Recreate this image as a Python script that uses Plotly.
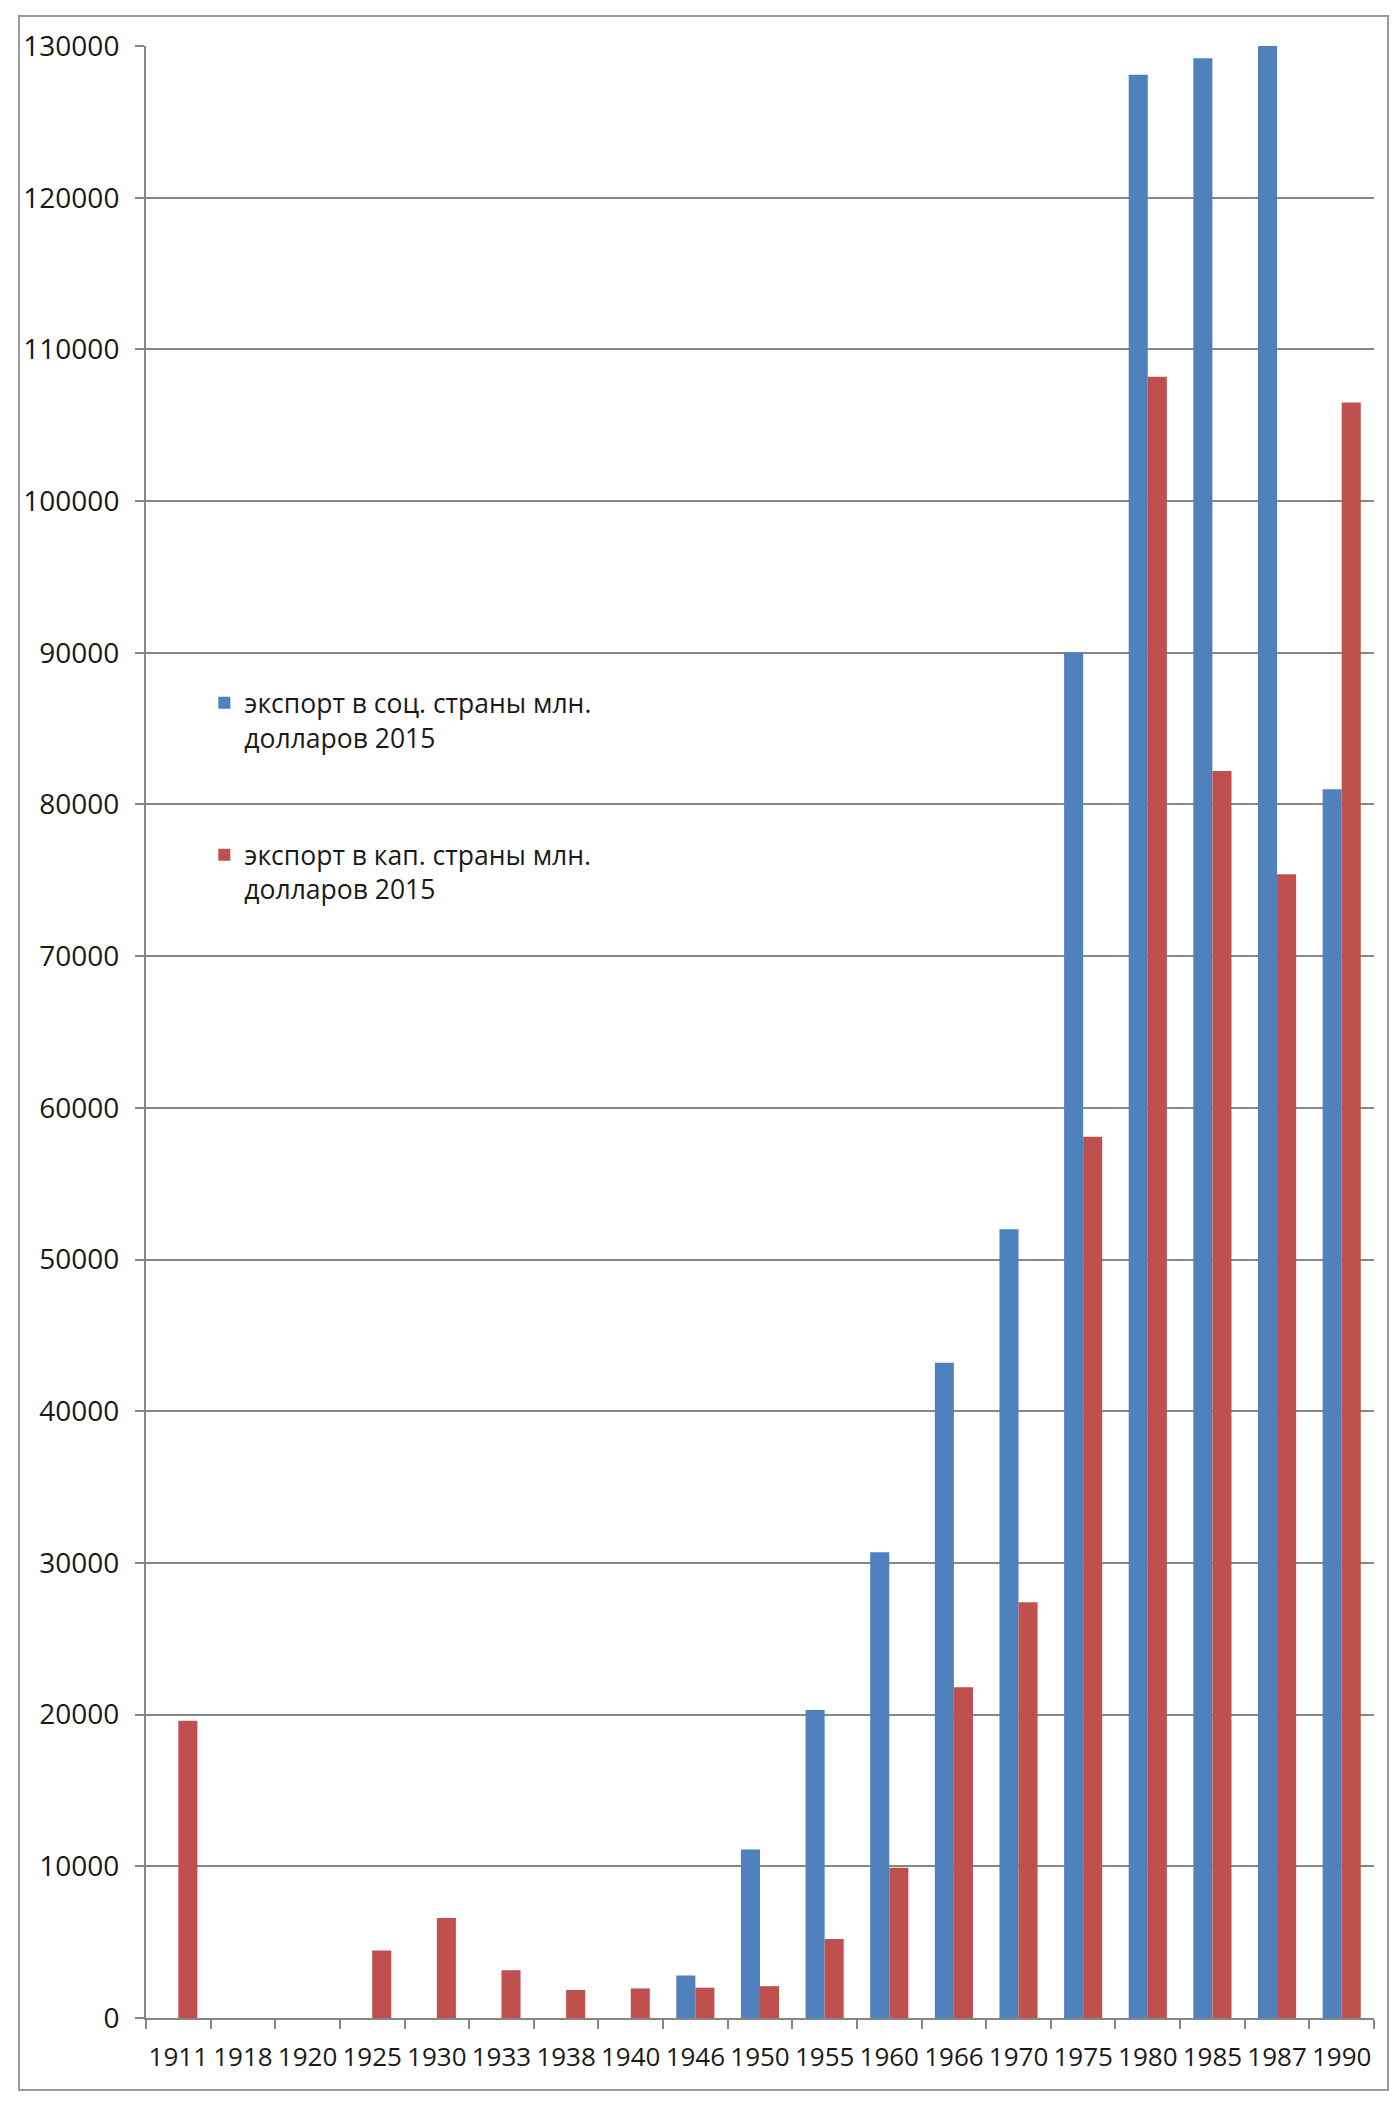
import plotly.graph_objects as go

years = ["1911", "1918", "1920", "1925", "1930", "1933", "1938", "1940", "1946", "1950",
         "1955", "1960", "1966", "1970", "1975", "1980", "1985", "1987", "1990"]
soc_export = [None, None, None, None, None, None, None, None, 2800, 11100,
              20300, 30700, 43200, 52000, 90000, 128100, 129200, 130000, 81000]
cap_export = [19600, None, None, 4450, 6600, 3150, 1850, 1950, 2000, 2100,
              5200, 9900, 21800, 27400, 58100, 108200, 82200, 75400, 106500]
y_ticks = list(range(0, 130001, 10000))

name_soc = "экспорт в соц. страны млн.<br>долларов 2015"
name_cap = "экспорт в кап. страны млн.<br>долларов 2015"

FONT = "Open Sans"
GRID = "#868686"

fig = go.Figure()
fig.add_trace(go.Bar(x=years, y=soc_export, name=name_soc, marker_color="#4F81BD",
                     marker_line_width=0, legendgroup="a"))
fig.add_trace(go.Bar(x=years, y=cap_export, name=name_cap, marker_color="#C0504D",
                     marker_line_width=0, legendgroup="b"))

# page body has an 8px margin, so the figure is drawn 8px smaller with shifted margins
fig.update_layout(
    width=1392, height=2093,
    margin=dict(l=138, r=26, t=38, b=83, autoexpand=False),
    paper_bgcolor="white", plot_bgcolor="white",
    barmode="group", bargap=0.41, bargroupgap=0,
    font=dict(family=FONT, size=28, color="#1a1a1a"),
    legend=dict(x=0.0475, y=0.679, xanchor="left", yanchor="top", valign="top",
                bgcolor="rgba(0,0,0,0)", font=dict(size=26.5, family=FONT),
                tracegroupgap=80, traceorder="grouped", itemwidth=30),
    showlegend=True,
)
fig.update_xaxes(type="category", tickangle=0, showgrid=False,
                 tickmode="array", tickvals=years, ticktext=years,
                 showline=True, linecolor=GRID, linewidth=2,
                 ticks="outside", tickson="boundaries", ticklen=9, tickcolor=GRID, tickwidth=2,
                 ticklabelstandoff=15,
                 tickfont=dict(size=26, family=FONT))
fig.update_yaxes(range=[0, 130000], tickvals=y_ticks, ticktext=[str(v) for v in y_ticks],
                 showgrid=True, gridcolor=GRID, gridwidth=2,
                 showline=True, linecolor=GRID, linewidth=2,
                 ticks="outside", ticklen=9, tickcolor=GRID, tickwidth=2,
                 ticklabelstandoff=10, zeroline=False,
                 tickfont=dict(size=28, family=FONT))

# outer frame around the chart
fig.add_shape(type="rect", xref="paper", yref="paper",
              x0=-0.1034, x1=1.0114, y0=-0.0365, y1=1.0152,
              line=dict(color="#9a9a9a", width=2), fillcolor="rgba(0,0,0,0)")

fig.write_html("out.html")
